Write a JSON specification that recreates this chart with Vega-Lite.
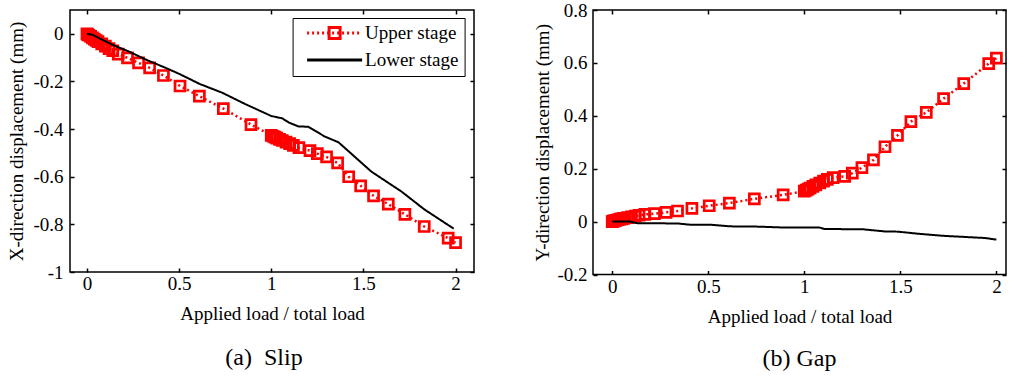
{
  "$schema": "https://vega.github.io/schema/vega-lite/v6.json",
  "padding": {"left": 7, "top": 0, "right": 0, "bottom": 0},
  "bounds": "flush",
  "spacing": 119,
  "config": {
    "font": "Liberation Serif",
    "view": {"stroke": "#000", "strokeWidth": 1.5},
    "axis": {
      "labelFont": "Liberation Serif", "labelFontSize": 19, "labelColor": "#000",
      "titleFont": "Liberation Serif", "titleFontSize": 19, "titleFontWeight": "normal", "titleColor": "#000",
      "grid": false, "domain": false, "tickColor": "#000", "tickSize": -4, "tickWidth": 1.5,
      "labelExpr": "replace(datum.label, '\u2212', '-')"
    },
    "legend": {"labelFont": "Liberation Serif", "labelFontSize": 19, "labelColor": "#000"},
    "title": {"font": "Liberation Serif", "fontSize": 24, "fontWeight": "normal", "color": "#000"}
  },
  "datasets": {
    "slip": [
      {"load": 0, "disp": 0, "stage": "Upper stage"},
      {"load": 0.005, "disp": -0.003, "stage": "Upper stage"},
      {"load": 0.01, "disp": -0.006, "stage": "Upper stage"},
      {"load": 0.02, "disp": -0.011, "stage": "Upper stage"},
      {"load": 0.03, "disp": -0.017, "stage": "Upper stage"},
      {"load": 0.04, "disp": -0.022, "stage": "Upper stage"},
      {"load": 0.05, "disp": -0.028, "stage": "Upper stage"},
      {"load": 0.06, "disp": -0.033, "stage": "Upper stage"},
      {"load": 0.08, "disp": -0.042, "stage": "Upper stage"},
      {"load": 0.1, "disp": -0.052, "stage": "Upper stage"},
      {"load": 0.12, "disp": -0.062, "stage": "Upper stage"},
      {"load": 0.14, "disp": -0.071, "stage": "Upper stage"},
      {"load": 0.17, "disp": -0.085, "stage": "Upper stage"},
      {"load": 0.22, "disp": -0.101, "stage": "Upper stage"},
      {"load": 0.28, "disp": -0.122, "stage": "Upper stage"},
      {"load": 0.34, "disp": -0.143, "stage": "Upper stage"},
      {"load": 0.415, "disp": -0.175, "stage": "Upper stage"},
      {"load": 0.505, "disp": -0.219, "stage": "Upper stage"},
      {"load": 0.61, "disp": -0.262, "stage": "Upper stage"},
      {"load": 0.74, "disp": -0.314, "stage": "Upper stage"},
      {"load": 0.89, "disp": -0.381, "stage": "Upper stage"},
      {"load": 1.0, "disp": -0.426, "stage": "Upper stage"},
      {"load": 1.01, "disp": -0.43, "stage": "Upper stage"},
      {"load": 1.02, "disp": -0.434, "stage": "Upper stage"},
      {"load": 1.03, "disp": -0.438, "stage": "Upper stage"},
      {"load": 1.045, "disp": -0.443, "stage": "Upper stage"},
      {"load": 1.06, "disp": -0.448, "stage": "Upper stage"},
      {"load": 1.08, "disp": -0.455, "stage": "Upper stage"},
      {"load": 1.1, "disp": -0.461, "stage": "Upper stage"},
      {"load": 1.12, "disp": -0.468, "stage": "Upper stage"},
      {"load": 1.15, "disp": -0.478, "stage": "Upper stage"},
      {"load": 1.21, "disp": -0.49, "stage": "Upper stage"},
      {"load": 1.25, "disp": -0.503, "stage": "Upper stage"},
      {"load": 1.3, "disp": -0.517, "stage": "Upper stage"},
      {"load": 1.36, "disp": -0.542, "stage": "Upper stage"},
      {"load": 1.42, "disp": -0.6, "stage": "Upper stage"},
      {"load": 1.485, "disp": -0.638, "stage": "Upper stage"},
      {"load": 1.555, "disp": -0.68, "stage": "Upper stage"},
      {"load": 1.635, "disp": -0.715, "stage": "Upper stage"},
      {"load": 1.725, "disp": -0.758, "stage": "Upper stage"},
      {"load": 1.83, "disp": -0.809, "stage": "Upper stage"},
      {"load": 1.96, "disp": -0.858, "stage": "Upper stage"},
      {"load": 2.0, "disp": -0.877, "stage": "Upper stage"},
      {"load": 0, "disp": 0, "stage": "Lower stage"},
      {"load": 0.03, "disp": -0.004, "stage": "Lower stage"},
      {"load": 0.066, "disp": -0.018, "stage": "Lower stage"},
      {"load": 0.138, "disp": -0.046, "stage": "Lower stage"},
      {"load": 0.229, "disp": -0.075, "stage": "Lower stage"},
      {"load": 0.319, "disp": -0.108, "stage": "Lower stage"},
      {"load": 0.427, "disp": -0.143, "stage": "Lower stage"},
      {"load": 0.5, "disp": -0.168, "stage": "Lower stage"},
      {"load": 0.571, "disp": -0.195, "stage": "Lower stage"},
      {"load": 0.61, "disp": -0.21, "stage": "Lower stage"},
      {"load": 0.733, "disp": -0.247, "stage": "Lower stage"},
      {"load": 0.859, "disp": -0.295, "stage": "Lower stage"},
      {"load": 1.0, "disp": -0.345, "stage": "Lower stage"},
      {"load": 1.06, "disp": -0.355, "stage": "Lower stage"},
      {"load": 1.094, "disp": -0.372, "stage": "Lower stage"},
      {"load": 1.148, "disp": -0.389, "stage": "Lower stage"},
      {"load": 1.2, "disp": -0.39, "stage": "Lower stage"},
      {"load": 1.292, "disp": -0.432, "stage": "Lower stage"},
      {"load": 1.364, "disp": -0.455, "stage": "Lower stage"},
      {"load": 1.454, "disp": -0.517, "stage": "Lower stage"},
      {"load": 1.544, "disp": -0.579, "stage": "Lower stage"},
      {"load": 1.706, "disp": -0.662, "stage": "Lower stage"},
      {"load": 1.832, "disp": -0.738, "stage": "Lower stage"},
      {"load": 1.99, "disp": -0.818, "stage": "Lower stage"}
    ],
    "gap": [
      {"load": 0, "disp": 0, "stage": "Upper stage"},
      {"load": 0.005, "disp": 0.002, "stage": "Upper stage"},
      {"load": 0.01, "disp": 0.003, "stage": "Upper stage"},
      {"load": 0.02, "disp": 0.005, "stage": "Upper stage"},
      {"load": 0.03, "disp": 0.007, "stage": "Upper stage"},
      {"load": 0.04, "disp": 0.009, "stage": "Upper stage"},
      {"load": 0.05, "disp": 0.01, "stage": "Upper stage"},
      {"load": 0.06, "disp": 0.012, "stage": "Upper stage"},
      {"load": 0.08, "disp": 0.015, "stage": "Upper stage"},
      {"load": 0.1, "disp": 0.018, "stage": "Upper stage"},
      {"load": 0.12, "disp": 0.021, "stage": "Upper stage"},
      {"load": 0.14, "disp": 0.024, "stage": "Upper stage"},
      {"load": 0.17, "disp": 0.027, "stage": "Upper stage"},
      {"load": 0.22, "disp": 0.03, "stage": "Upper stage"},
      {"load": 0.28, "disp": 0.035, "stage": "Upper stage"},
      {"load": 0.34, "disp": 0.04, "stage": "Upper stage"},
      {"load": 0.415, "disp": 0.05, "stage": "Upper stage"},
      {"load": 0.505, "disp": 0.06, "stage": "Upper stage"},
      {"load": 0.61, "disp": 0.07, "stage": "Upper stage"},
      {"load": 0.74, "disp": 0.086, "stage": "Upper stage"},
      {"load": 0.89, "disp": 0.101, "stage": "Upper stage"},
      {"load": 1.0, "disp": 0.115, "stage": "Upper stage"},
      {"load": 1.01, "disp": 0.119, "stage": "Upper stage"},
      {"load": 1.02, "disp": 0.123, "stage": "Upper stage"},
      {"load": 1.03, "disp": 0.127, "stage": "Upper stage"},
      {"load": 1.045, "disp": 0.133, "stage": "Upper stage"},
      {"load": 1.06, "disp": 0.139, "stage": "Upper stage"},
      {"load": 1.08, "disp": 0.146, "stage": "Upper stage"},
      {"load": 1.1, "disp": 0.153, "stage": "Upper stage"},
      {"load": 1.12, "disp": 0.16, "stage": "Upper stage"},
      {"load": 1.15, "disp": 0.166, "stage": "Upper stage"},
      {"load": 1.21, "disp": 0.171, "stage": "Upper stage"},
      {"load": 1.25, "disp": 0.183, "stage": "Upper stage"},
      {"load": 1.3, "disp": 0.204, "stage": "Upper stage"},
      {"load": 1.36, "disp": 0.233, "stage": "Upper stage"},
      {"load": 1.42, "disp": 0.283, "stage": "Upper stage"},
      {"load": 1.485, "disp": 0.326, "stage": "Upper stage"},
      {"load": 1.555, "disp": 0.378, "stage": "Upper stage"},
      {"load": 1.635, "disp": 0.413, "stage": "Upper stage"},
      {"load": 1.725, "disp": 0.465, "stage": "Upper stage"},
      {"load": 1.83, "disp": 0.522, "stage": "Upper stage"},
      {"load": 1.96, "disp": 0.597, "stage": "Upper stage"},
      {"load": 2.0, "disp": 0.618, "stage": "Upper stage"},
      {"load": 0, "disp": 0, "stage": "Lower stage"},
      {"load": 0.096, "disp": 0, "stage": "Lower stage"},
      {"load": 0.13, "disp": -0.006, "stage": "Lower stage"},
      {"load": 0.339, "disp": -0.007, "stage": "Lower stage"},
      {"load": 0.409, "disp": -0.012, "stage": "Lower stage"},
      {"load": 0.513, "disp": -0.012, "stage": "Lower stage"},
      {"load": 0.617, "disp": -0.018, "stage": "Lower stage"},
      {"load": 0.757, "disp": -0.019, "stage": "Lower stage"},
      {"load": 0.878, "disp": -0.022, "stage": "Lower stage"},
      {"load": 1.078, "disp": -0.022, "stage": "Lower stage"},
      {"load": 1.104, "disp": -0.028, "stage": "Lower stage"},
      {"load": 1.304, "disp": -0.029, "stage": "Lower stage"},
      {"load": 1.417, "disp": -0.037, "stage": "Lower stage"},
      {"load": 1.487, "disp": -0.038, "stage": "Lower stage"},
      {"load": 1.609, "disp": -0.047, "stage": "Lower stage"},
      {"load": 1.73, "disp": -0.054, "stage": "Lower stage"},
      {"load": 1.939, "disp": -0.062, "stage": "Lower stage"},
      {"load": 2.0, "disp": -0.068, "stage": "Lower stage"}
    ]
  },
  "hconcat": [
    {
      "width": 404,
      "height": 262,
      "title": {"text": "(a)\u00a0\u00a0Slip", "orient": "bottom", "anchor": "middle", "offset": 23, "dx": -8, "font": "Liberation Serif", "fontSize": 24, "fontWeight": "normal"},
      "data": {"name": "slip"},
      "resolve": {"axis": {"x": "independent", "y": "independent"}},
      "encoding": {
        "x": {"field": "load", "type": "quantitative", "scale": {"domain": [-0.092, 2.1], "nice": false, "zero": false},
              "axis": {"values": [0, 0.5, 1, 1.5, 2], "format": "~g", "title": "Applied load / total load", "labelPadding": 6, "titlePadding": 11}},
        "y": {"field": "disp", "type": "quantitative", "scale": {"domain": [-1, 0.1], "nice": false, "zero": false},
              "axis": {"values": [-1, -0.8, -0.6, -0.4, -0.2, 0], "format": "~g", "title": "X-direction displacement (mm)", "labelPadding": 11, "titlePadding": 6}}
      },
      "layer": [
        {
          "transform": [{"filter": "datum.stage == 'Upper stage'"}],
          "mark": {"type": "line", "strokeWidth": 2.5},
          "encoding": {
            "color": {"field": "stage", "type": "nominal", "scale": {"domain": ["Upper stage", "Lower stage"], "range": ["#ff0000", "#000000"]},
                      "legend": {"orient": "none", "legendX": 222.6, "legendY": 8, "title": null, "strokeColor": "#000", "padding": 5.5, "symbolType": "M-5,0L5,0", "symbolSize": 121, "symbolOffset": 27, "symbolStrokeWidth": 3, "labelOffset": 21, "rowPadding": 7, "labelExpr": "datum.label + '\u00a0\u00a0'"}},
            "strokeDash": {"field": "stage", "type": "nominal", "scale": {"domain": ["Upper stage", "Lower stage"], "range": [[2, 3], [1, 0]]},
                      "legend": {"orient": "none", "legendX": 222.6, "legendY": 8, "title": null, "strokeColor": "#000", "padding": 5.5, "symbolType": "M-5,0L5,0", "symbolSize": 121, "symbolOffset": 27, "symbolStrokeWidth": 3, "labelOffset": 21, "rowPadding": 7, "labelExpr": "datum.label + '\u00a0\u00a0'"}}
          }
        },
        {
          "transform": [{"filter": "datum.stage == 'Upper stage'"}],
          "mark": {"type": "point", "shape": "square", "filled": false, "size": 100, "strokeWidth": 2.7, "color": "#ff0000", "opacity": 1},
          "encoding": {
            "x": {"field": "load", "type": "quantitative", "axis": {"orient": "top", "values": [0, 0.5, 1, 1.5, 2], "labels": false, "title": null}},
            "y": {"field": "disp", "type": "quantitative", "axis": {"orient": "right", "values": [-1, -0.8, -0.6, -0.4, -0.2, 0], "labels": false, "title": null}},
            "shape": {"field": "stage", "type": "nominal", "scale": {"domain": ["Upper stage"], "range": ["square"]},
                      "legend": {"orient": "none", "legendX": 222.6, "legendY": 8, "title": null, "padding": 5.5, "symbolSize": 121, "symbolOffset": 27, "symbolStrokeColor": "#ff0000", "symbolFillColor": "transparent", "symbolStrokeWidth": 3, "labelOpacity": 0, "labelOffset": 21}}
          }
        },
        {
          "transform": [{"filter": "datum.stage == 'Lower stage'"}],
          "mark": {"type": "line", "strokeWidth": 2},
          "encoding": {
            "x": {"field": "load", "type": "quantitative", "axis": null},
            "y": {"field": "disp", "type": "quantitative", "axis": null},
            "color": {"field": "stage", "type": "nominal"},
            "strokeDash": {"field": "stage", "type": "nominal"}
          }
        }
      ]
    },
    {
      "width": 413,
      "height": 264.5,
      "title": {"text": "(b) Gap", "orient": "bottom", "anchor": "middle", "offset": 20, "font": "Liberation Serif", "fontSize": 24, "fontWeight": "normal"},
      "data": {"name": "gap"},
      "resolve": {"axis": {"x": "independent", "y": "independent"}},
      "encoding": {
        "x": {"field": "load", "type": "quantitative", "scale": {"domain": [-0.1, 2.05], "nice": false, "zero": false},
              "axis": {"values": [0, 0.5, 1, 1.5, 2], "format": "~g", "title": "Applied load / total load", "labelPadding": 7, "titlePadding": 11}},
        "y": {"field": "disp", "type": "quantitative", "scale": {"domain": [-0.2, 0.8], "nice": false, "zero": false},
              "axis": {"values": [-0.2, 0, 0.2, 0.4, 0.6, 0.8], "format": "~g", "title": "Y-direction displacement (mm)", "labelPadding": 10, "titlePadding": 4}}
      },
      "layer": [
        {
          "transform": [{"filter": "datum.stage == 'Upper stage'"}],
          "mark": {"type": "line", "strokeWidth": 2.5},
          "encoding": {
            "color": {"field": "stage", "type": "nominal", "scale": {"domain": ["Upper stage", "Lower stage"], "range": ["#ff0000", "#000000"]},
                      "legend": {"orient": "none", "legendX": 6.4, "legendY": 5, "title": null, "strokeColor": "#000", "padding": 5.5, "symbolType": "M-5,0L5,0", "symbolSize": 121, "symbolOffset": 27, "symbolStrokeWidth": 3, "labelOffset": 24, "rowPadding": 7, "labelExpr": "datum.label + '\u00a0\u00a0'"}},
            "strokeDash": {"field": "stage", "type": "nominal", "scale": {"domain": ["Upper stage", "Lower stage"], "range": [[2, 3], [1, 0]]},
                      "legend": {"orient": "none", "legendX": 6.4, "legendY": 5, "title": null, "strokeColor": "#000", "padding": 5.5, "symbolType": "M-5,0L5,0", "symbolSize": 121, "symbolOffset": 27, "symbolStrokeWidth": 3, "labelOffset": 24, "rowPadding": 7, "labelExpr": "datum.label + '\u00a0\u00a0'"}}
          }
        },
        {
          "transform": [{"filter": "datum.stage == 'Upper stage'"}],
          "mark": {"type": "point", "shape": "square", "filled": false, "size": 100, "strokeWidth": 2.7, "color": "#ff0000", "opacity": 1},
          "encoding": {
            "x": {"field": "load", "type": "quantitative", "axis": {"orient": "top", "values": [0, 0.5, 1, 1.5, 2], "labels": false, "title": null}},
            "y": {"field": "disp", "type": "quantitative", "axis": {"orient": "right", "values": [-0.2, 0, 0.2, 0.4, 0.6, 0.8], "labels": false, "title": null}},
            "shape": {"field": "stage", "type": "nominal", "scale": {"domain": ["Upper stage"], "range": ["square"]},
                      "legend": {"orient": "none", "legendX": 6.4, "legendY": 5, "title": null, "padding": 5.5, "symbolSize": 121, "symbolOffset": 27, "symbolStrokeColor": "#ff0000", "symbolFillColor": "transparent", "symbolStrokeWidth": 3, "labelOpacity": 0, "labelOffset": 24}}
          }
        },
        {
          "transform": [{"filter": "datum.stage == 'Lower stage'"}],
          "mark": {"type": "line", "strokeWidth": 2},
          "encoding": {
            "x": {"field": "load", "type": "quantitative", "axis": null},
            "y": {"field": "disp", "type": "quantitative", "axis": null},
            "color": {"field": "stage", "type": "nominal"},
            "strokeDash": {"field": "stage", "type": "nominal"}
          }
        }
      ]
    }
  ]
}
